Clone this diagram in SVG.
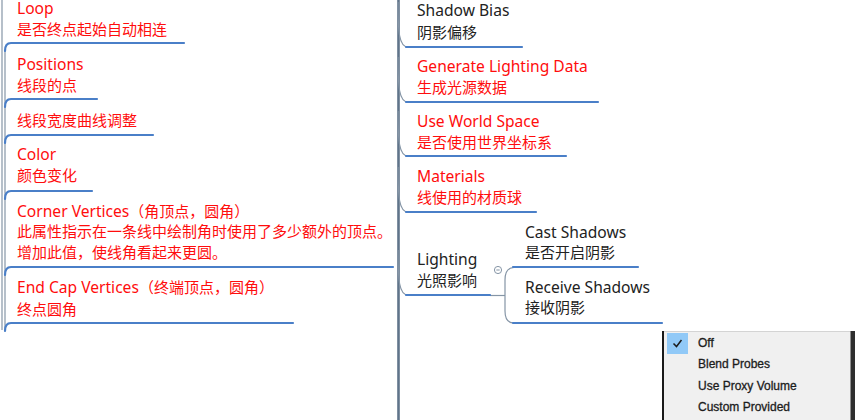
<svg xmlns="http://www.w3.org/2000/svg" width="855" height="420" viewBox="0 0 855 420">
<style>
.t{font-family:"Noto Sans","Noto Sans CJK SC",sans-serif;font-size:15.6px}
.c{font-family:"Noto Sans CJK SC",sans-serif;font-size:15px}
.red{fill:#ff0d0d}
.dk{fill:#222222}
.ul{fill:none;stroke:#4a7fc8;stroke-width:2.2;stroke-linecap:round}
.br{fill:none;stroke:#8595a6;stroke-width:1.2}
.trunk{fill:none;stroke:#60748a;stroke-width:2.6}
.menu{font-family:"Liberation Sans",Arial,sans-serif;font-size:12px;fill:#1c1c1c;stroke:#1c1c1c;stroke-width:0.3}
</style>
<rect width="855" height="420" fill="#ffffff"/>

<g id="connectors">
  <line class="br" x1="2" y1="0" x2="2" y2="330" stroke-width="1.6"/>
  <line class="br" x1="5" y1="50" x2="5" y2="330" stroke="#aab6c2" stroke-width="1"/>
  <line class="trunk" x1="398.5" y1="0" x2="398.5" y2="420"/>
  <path class="br" d="M398,2 C398,32 399,47 408,47"/>
  <path class="br" d="M398,57 C398,87 399,102 408,102"/>
  <path class="br" d="M398,111 C398,141 399,156 408,156"/>
  <path class="br" d="M398,167 C398,197 399,212 408,212"/>
  <path class="br" d="M398,250 C398,280 399,295 408,295"/>
  <path class="br" d="M490,295.5 L505,295.5"/>
  <path class="br" d="M514,267.5 Q505,267.5 505,280 L505,311 Q505,323 514,323"/>
  <circle cx="498" cy="270" r="3.6" fill="#ffffff" stroke="#8595a6" stroke-width="1"/>
  <line x1="496.3" y1="270" x2="499.7" y2="270" stroke="#8595a6" stroke-width="1"/>
</g>

<g id="node-loop">
  <text class="t red" x="17" y="14">Loop</text>
  <text class="c red" x="17" y="34.5">是否终点起始自动相连</text>
  <path class="ul" d="M5,51 Q5,43 11,43 L184,43"/>
</g>
<g id="node-positions">
  <text class="t red" x="17" y="69.5">Positions</text>
  <text class="c red" x="17" y="90.5">线段的点</text>
  <path class="ul" d="M5,107 Q5,99 11,99 L97,99"/>
</g>
<g id="node-width">
  <text class="c red" x="17" y="125.5">线段宽度曲线调整</text>
  <path class="ul" d="M5,143 Q5,135 11,135 L153,135"/>
</g>
<g id="node-color">
  <text class="t red" x="17" y="160">Color</text>
  <text class="c red" x="17" y="181">颜色变化</text>
  <path class="ul" d="M5,199 Q5,191 11,191 L92,191"/>
</g>
<g id="node-corner">
  <text class="t red" x="17" y="216.5">Corner Vertices<tspan class="c">（角顶点，圆角）</tspan></text>
  <text class="c red" x="17" y="236.5">此属性指示在一条线中绘制角时使用了多少额外的顶点。</text>
  <text class="c red" x="17" y="258">增加此值，使线角看起来更圆。</text>
  <path class="ul" d="M5,275 Q5,267 11,267 L393,267"/>
</g>
<g id="node-endcap">
  <text class="t red" x="17" y="293">End Cap Vertices<tspan class="c">（终端顶点，圆角）</tspan></text>
  <text class="c red" x="17" y="314.5">终点圆角</text>
  <path class="ul" d="M5,331 Q5,323 11,323 L293,323"/>
</g>

<g id="node-shadowbias">
  <text class="t dk" x="417" y="16">Shadow Bias</text>
  <text class="c dk" x="417" y="38">阴影偏移</text>
  <path class="ul" d="M406,47 L522,47"/>
</g>
<g id="node-genlight">
  <text class="t red" x="417" y="72">Generate Lighting Data</text>
  <text class="c red" x="417" y="93">生成光源数据</text>
  <path class="ul" d="M406,102 L598,102"/>
</g>
<g id="node-worldspace">
  <text class="t red" x="417" y="127">Use World Space</text>
  <text class="c red" x="417" y="148">是否使用世界坐标系</text>
  <path class="ul" d="M406,156 L566,156"/>
</g>
<g id="node-materials">
  <text class="t red" x="417" y="181.5">Materials</text>
  <text class="c red" x="417" y="203">线使用的材质球</text>
  <path class="ul" d="M406,212 L536,212"/>
</g>
<g id="node-lighting">
  <text class="t dk" x="417" y="265">Lighting</text>
  <text class="c dk" x="417" y="286">光照影响</text>
  <path class="ul" d="M406,295 L490,295"/>
</g>
<g id="node-castshadows">
  <text class="t dk" x="525" y="237.5">Cast Shadows</text>
  <text class="c dk" x="525" y="258">是否开启阴影</text>
  <path class="ul" d="M513,267 L638,267"/>
</g>
<g id="node-receiveshadows">
  <text class="t dk" x="525" y="292.5">Receive Shadows</text>
  <text class="c dk" x="525" y="313">接收阴影</text>
  <path class="ul" d="M513,323 L662,323"/>
</g>

<g id="menu">
  <rect x="662" y="331" width="193" height="89" fill="#f0f0f0"/>
  <line x1="662" y1="331.5" x2="851" y2="331.5" stroke="#d4d4d4" stroke-width="1"/>
  <line x1="663" y1="331" x2="663" y2="420" stroke="#1a1a1a" stroke-width="2"/>
  <rect x="850.5" y="331" width="4.5" height="89" fill="#2e2e2e"/>
  <rect x="667" y="333" width="21" height="21" fill="#91c9f7"/>
  <path d="M673.5,343.5 L676.5,346.5 L681.5,340" fill="none" stroke="#1c1c1c" stroke-width="1.5"/>
  <text class="menu" x="698" y="347">Off</text>
  <text class="menu" x="698" y="368">Blend Probes</text>
  <text class="menu" x="698" y="390">Use Proxy Volume</text>
  <text class="menu" x="698" y="411">Custom Provided</text>
</g>
</svg>
